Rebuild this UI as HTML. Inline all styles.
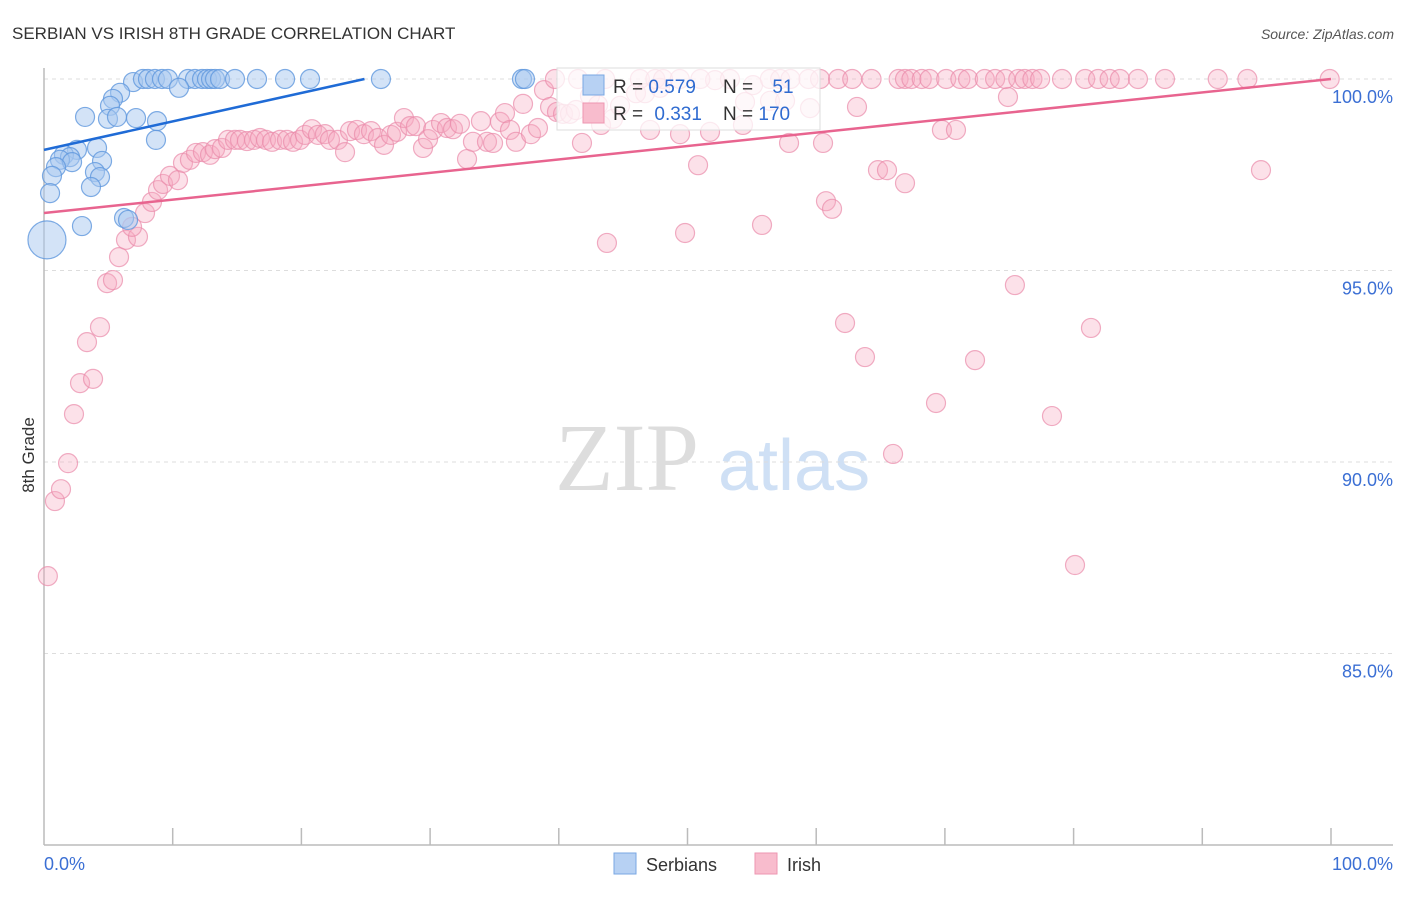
<!DOCTYPE html>
<html><head><meta charset="utf-8"><style>
body{margin:0;background:#fff;font-family:"Liberation Sans",sans-serif;}
svg text{font-family:"Liberation Sans",sans-serif;}
</style></head><body>
<svg width="1406" height="892" viewBox="0 0 1406 892">
<text x="12" y="39" font-size="17" fill="#333">SERBIAN VS IRISH 8TH GRADE CORRELATION CHART</text>
<text x="1394" y="39" font-size="14" fill="#555" font-style="italic" text-anchor="end">Source: ZipAtlas.com</text>
<g>
<text x="555" y="490" font-size="96" fill="#ddd" font-family="Liberation Serif, serif" style="font-family:'Liberation Serif',serif">ZIP</text>
<text x="718" y="490" font-size="72" fill="#cfe0f5">atlas</text>
</g>
<g id="grid"></g>
<g id="axes"></g>
<g id="pts-irish"></g>
<g id="pts-serb"></g>
<g id="trends"></g>
<text x="34" y="455" font-size="17" fill="#333" text-anchor="middle" transform="rotate(-90 34 455)">8th Grade</text>
<g>
<rect x="557" y="68" width="263" height="62" fill="#fff" fill-opacity="0.75" stroke="#ddd"/>
<rect x="583" y="75" width="21" height="20" fill="#b7d1f3" stroke="#7aa7e3"/>
<rect x="583" y="103" width="21" height="20" fill="#f8bccd" stroke="#ee96b1"/>
<text x="613" y="93" font-size="19" fill="#333">R = <tspan fill="#2f6bd0">0.579</tspan></text>
<text x="723" y="93" font-size="19" fill="#333">N = <tspan fill="#2f6bd0" dx="14">51</tspan></text>
<text x="613" y="120" font-size="19" fill="#333">R = <tspan fill="#2f6bd0" dx="6">0.331</tspan></text>
<text x="723" y="120" font-size="19" fill="#333">N = <tspan fill="#2f6bd0">170</tspan></text>
</g>
<g>
<rect x="614" y="853" width="22" height="21" fill="#b7d1f3" stroke="#7aa7e3"/>
<text x="646" y="871" font-size="18" fill="#333">Serbians</text>
<rect x="755" y="853" width="22" height="21" fill="#f8bccd" stroke="#ee96b1"/>
<text x="787" y="871" font-size="18" fill="#333">Irish</text>
</g>
</svg>
<script>
const yTicks=[100,95,90,85];
const yTickLabels=["100.0%","95.0%","90.0%","85.0%"];
const xTickLabels=["0.0%","100.0%"];
const serbX=[6.92,7.69,8.08,8.62,9.17,9.63,11.19,11.73,12.28,12.67,12.98,13.29,13.68,14.84,16.55,18.73,20.67,26.18,37.14,37.37,10.49,5.91,5.36,5.13,4.97,5.67,7.15,8.78,3.19,8.70,4.12,2.56,1.55,2.02,1.24,2.18,4.51,0.93,3.96,4.35,0.62,3.65,0.47,6.22,6.53,2.95,0.23];
const serbY=[99.92,100,100,100,100,100,100,100,100,100,100,100,100,100,100,100,100,100,100,100,99.77,99.64,99.48,99.30,98.96,99.01,98.98,98.90,99.01,98.41,98.20,98.15,98.02,97.96,97.89,97.83,97.86,97.70,97.57,97.44,97.47,97.18,97.02,96.37,96.32,96.16,95.80];
const serbSize=[1,1,1,1,1,1,1,1,1,1,1,1,1,1,1,1,1,1,1,1,1,1,1,1,1,1,1,1,1,1,1,1,1,1,1,1,1,1,1,1,1,1,1,1,1,1,2];
const irishX=[0.3,0.85,1.32,1.87,2.33,2.80,3.81,3.34,4.35,4.90,5.36,5.83,6.37,7.30,6.84,7.85,8.39,8.86,9.25,9.79,10.41,10.80,11.34,11.81,12.35,12.90,13.29,13.83,14.30,14.84,15.23,15.77,16.32,16.78,17.25,17.72,18.34,18.88,19.35,19.89,20.28,20.82,21.29,21.83,22.22,22.84,23.39,23.78,24.32,24.86,25.41,25.95,26.42,26.96,27.43,27.97,28.44,28.90,29.45,29.84,30.23,30.85,31.31,31.78,32.32,32.87,33.33,33.95,34.42,34.89,35.43,35.82,36.21,36.67,37.22,37.84,38.38,38.85,39.32,39.86,40.33,40.87,41.34,41.80,42.42,43.05,43.28,43.74,44.21,44.76,46.00,46.70,47.09,47.86,49.42,49.81,50.82,51.75,52.14,54.31,54.47,55.09,55.79,56.41,57.58,57.89,59.52,60.53,60.76,61.23,62.24,63.17,63.79,64.80,65.50,65.97,66.90,69.31,69.77,70.86,72.34,74.90,75.44,78.32,80.11,81.35,94.56,
39.7,41.5,43.6,46.3,47.5,48.1,49.4,51.0,53.3,56.4,57.2,58.0,59.4,60.3,61.7,62.8,64.3,66.4,66.9,67.4,68.2,68.8,70.1,71.2,71.8,73.1,73.9,74.7,75.7,76.2,76.8,77.4,79.1,80.9,81.9,82.8,83.6,85.0,87.1,91.2,93.5,99.9];
const irishY=[87.02,88.98,89.29,89.97,91.25,92.06,92.17,93.13,93.52,94.67,94.75,95.35,95.80,95.88,96.14,96.50,96.79,97.10,97.26,97.47,97.36,97.81,97.89,98.07,98.09,98.02,98.17,98.20,98.41,98.41,98.41,98.38,98.41,98.46,98.41,98.36,98.41,98.41,98.36,98.41,98.54,98.69,98.54,98.56,98.41,98.41,98.09,98.64,98.67,98.56,98.64,98.46,98.28,98.54,98.62,98.98,98.77,98.77,98.20,98.43,98.67,98.85,98.72,98.69,98.83,97.91,98.36,98.90,98.36,98.33,98.88,99.11,98.67,98.36,99.35,98.56,98.72,99.71,99.27,99.14,99.09,99.09,99.19,98.33,99.56,99.32,98.80,95.72,98.96,99.30,99.63,99.63,98.67,99.77,98.56,95.98,97.75,98.62,99.97,98.80,99.40,99.84,96.19,99.43,99.43,98.33,99.24,98.33,96.81,96.61,93.63,99.27,92.74,97.62,97.62,90.21,97.28,91.54,98.67,98.67,92.66,99.53,94.62,91.20,87.31,93.50,97.62,
100,100,100,100,100,100,100,100,100,100,100,100,100,100,100,100,100,100,100,100,100,100,100,100,100,100,100,100,100,100,100,100,100,100,100,100,100,100,100,100,100,100];
const serbTrend=[0,98.15,24.9,100];
const irishTrend=[0,96.5,100,100];

const NS="http://www.w3.org/2000/svg";
const X0=44,X1=1331,Y100=79,PXPER=38.3;
function xs(v){return X0+(X1-X0)*v/100;}
function ys(v){return Y100+(100-v)*PXPER;}
function mk(tag,attrs,parent){const e=document.createElementNS(NS,tag);for(const k in attrs)e.setAttribute(k,attrs[k]);parent.appendChild(e);return e;}
const grid=document.getElementById('grid'),axes=document.getElementById('axes');
yTicks.forEach((t,i)=>{
 const l=mk('line',{x1:44,x2:1393,y1:ys(t),y2:ys(t),stroke:'#ddd','stroke-dasharray':'4 4'},grid);
 
 
 const tx=mk('text',{x:1393,y:ys(t)+24,'font-size':18,fill:'#3b6fd4','text-anchor':'end'},axes);
 tx.textContent=yTickLabels[i];
 
 
});
const ya=mk('line',{x1:44,x2:44,y1:68,y2:845,stroke:'#bbb','stroke-width':1.5},axes);


const xa=mk('line',{x1:44,x2:1393,y1:845,y2:845,stroke:'#bbb','stroke-width':1.5},axes);


for(let i=1;i<=10;i++){
 const tk=mk('line',{x1:xs(i*10),x2:xs(i*10),y1:828,y2:845,stroke:'#bbb','stroke-width':1.5},axes);
 
 
}
[[0,'start',44],[1,'end',1393]].forEach(a=>{
 const t=mk('text',{x:a[2],y:870,'font-size':18,fill:'#3b6fd4','text-anchor':a[1]},axes);
 t.textContent=xTickLabels[a[0]];
 
 
});
const gi=document.getElementById('pts-irish');
irishX.forEach((v,i)=>{
 const c=mk('circle',{cx:xs(v),cy:ys(irishY[i]),r:9.5,fill:'#f5a8c0','fill-opacity':0.35,stroke:'#e98aa9','stroke-opacity':0.7,'stroke-width':1.2},gi);
 
 
});
const gs=document.getElementById('pts-serb');
serbX.forEach((v,i)=>{
 const c=mk('circle',{cx:xs(v),cy:ys(serbY[i]),r:9.5*serbSize[i],fill:'#a8c8f0','fill-opacity':0.5,stroke:'#5f97dd','stroke-opacity':0.8,'stroke-width':1.2},gs);
 
 
});
const gt=document.getElementById('trends');
const l1=mk('line',{x1:xs(serbTrend[0]),y1:ys(serbTrend[1]),x2:xs(serbTrend[2]),y2:ys(serbTrend[3]),stroke:'#1f6bd6','stroke-width':2.5},gt);


const l2=mk('line',{x1:xs(irishTrend[0]),y1:ys(irishTrend[1]),x2:xs(irishTrend[2]),y2:ys(irishTrend[3]),stroke:'#e8648f','stroke-width':2.5},gt);


</script>
</body></html>
